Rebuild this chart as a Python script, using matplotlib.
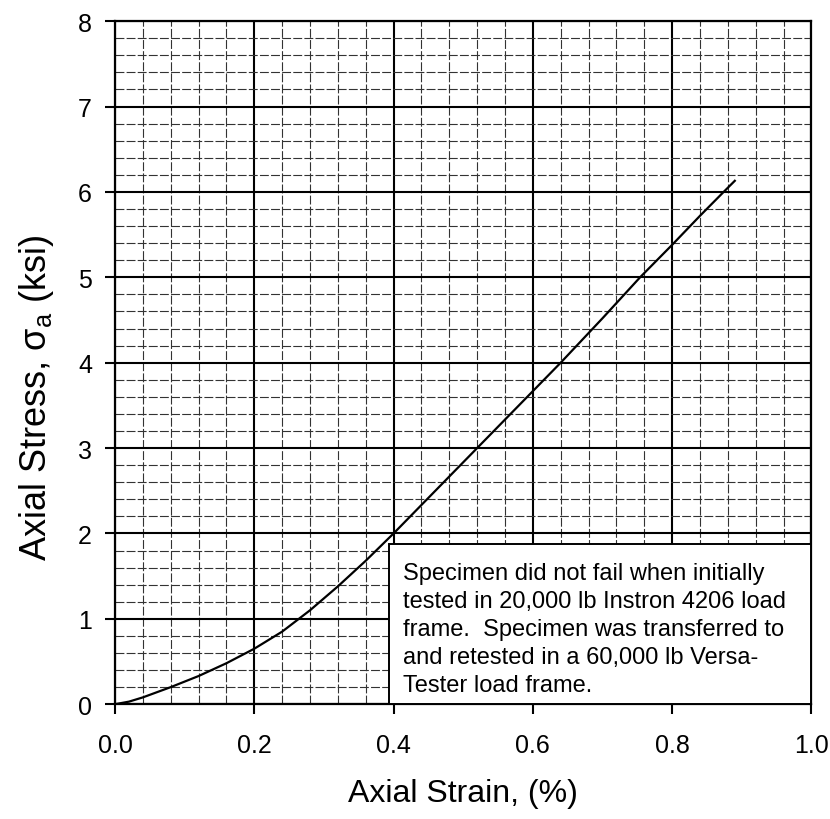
import numpy as np
import matplotlib.pyplot as plt
from matplotlib.ticker import MultipleLocator
from matplotlib.patches import Rectangle

plt.rcParams['font.family'] = ['Liberation Sans', 'DejaVu Sans']
plt.rcParams['mathtext.fontset'] = 'custom'
plt.rcParams['mathtext.rm'] = 'Liberation Sans'
plt.rcParams['mathtext.it'] = 'Liberation Sans:italic'

# 应变-应力数据
strain = [0.0, 0.02, 0.04, 0.08, 0.12, 0.16, 0.20, 0.24, 0.28,
          0.32, 0.36, 0.40, 0.46, 0.52, 0.58, 0.64, 0.70, 0.754, 0.80,
          0.84, 0.874, 0.89]
stress = [0.0, 0.03, 0.08, 0.20, 0.33, 0.48, 0.65, 0.85, 1.10,
          1.38, 1.68, 2.0, 2.5, 3.0, 3.5, 4.0, 4.52, 5.0, 5.38,
          5.72, 6.0, 6.13]

note = ("Specimen did not fail when initially\n"
        "tested in 20,000 lb Instron 4206 load\n"
        "frame.  Specimen was transferred to\n"
        "and retested in a 60,000 lb Versa-\n"
        "Tester load frame.")

fig = plt.figure(figsize=(8.3, 8.2), dpi=100)
ax = fig.add_axes([0.1386, 0.140, 0.839, 0.833])

ax.plot(strain, stress, color='black', lw=1.6, zorder=3)

ax.set_xlim(0, 1.0)
ax.set_ylim(0, 8)
ax.xaxis.set_major_locator(MultipleLocator(0.2))
ax.xaxis.set_minor_locator(MultipleLocator(0.04))
ax.yaxis.set_major_locator(MultipleLocator(1))
ax.yaxis.set_minor_locator(MultipleLocator(0.2))
ax.xaxis.set_major_formatter(plt.FormatStrFormatter('%.1f'))

ax.grid(which='minor', color='#333333', lw=0.8, ls=(0, (8, 2)))
ax.grid(which='major', color='black', lw=1.5)
ax.tick_params(which='major', direction='out', length=7.5, width=1.5,
               labelsize=18)
ax.tick_params(axis='x', pad=13)
ax.tick_params(axis='y', pad=9)
ax.tick_params(which='minor', length=0)
for s in ax.spines.values():
    s.set_linewidth(1.6)

ax.set_xlabel('Axial Strain, (%)', fontsize=23, labelpad=15)
ax.set_ylabel(r'Axial Stress, $\mathregular{\sigma_a}$ (ksi)', fontsize=26)
ax.yaxis.set_label_coords(-0.085, 0.45)

# 注释框
ax.add_patch(Rectangle((0.394, 0.0), 0.606, 1.874, fc='white', ec='black',
                       lw=1.4, zorder=4, clip_on=False))
ax.text(0.414, 1.67, note, fontsize=17, va='top', ha='left',
        linespacing=1.36, zorder=5)

plt.savefig('out.png', dpi=100)
